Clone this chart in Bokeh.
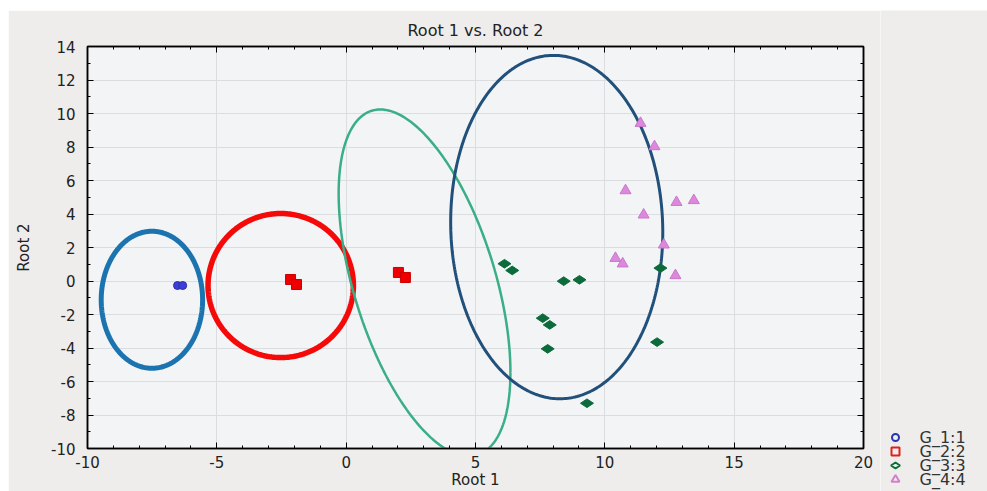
import numpy as np
from bokeh.plotting import figure
from bokeh.layouts import column, row
from bokeh.models import (LinearAxis, FixedTicker, Spacer, Range1d,
                          PrintfTickFormatter, Title)
from bokeh.embed import file_html
from bokeh.resources import INLINE

# ---------------- data ----------------
title_text = "Root 1 vs. Root 2"
x_label = "Root 1"
y_label = "Root 2"

x_ticks = [-10, -5, 0, 5, 10, 15, 20]
x_minor = list(range(-10, 21))
y_ticks = [-10, -8, -6, -4, -2, 0, 2, 4, 6, 8, 10, 12, 14]
y_minor = list(range(-10, 15))

group_labels = ["G_1:1", "G_2:2", "G_3:3", "G_4:4"]

g1_x = [-6.52, -6.32]
g1_y = [-0.27, -0.27]
g2_x = [-2.15, -1.92, 2.02, 2.29]
g2_y = [0.09, -0.21, 0.51, 0.21]
g3_x = [6.12, 6.42, 8.41, 9.02, 7.60, 7.87, 7.79, 12.15, 12.02, 9.31]
g3_y = [1.03, 0.63, -0.01, 0.07, -2.22, -2.62, -4.05, 0.77, -3.65, -7.30]
g4_x = [11.38, 11.92, 10.80, 12.77, 13.44, 11.50, 12.28, 10.41, 10.69, 12.73]
g4_y = [9.42, 8.03, 5.40, 4.70, 4.81, 3.95, 2.16, 1.36, 1.03, 0.33]

# ellipses: centre, half-extents along x and y, correlation
ell_cx = [-7.51, -2.53, 3.03, 8.14]
ell_cy = [-1.12, -0.27, -0.11, 3.22]
ell_sx = [1.96, 2.81, 3.32, 4.10]
ell_sy = [4.09, 4.30, 10.35, 10.25]
ell_rho = [0.0, 0.0, -0.515, -0.03]

# ---------------- styles ----------------
FONT = "DejaVu Sans"
BG_OUT = "#eeedeb"
ell_colors = ["#1b73b0", "#f50a0a", "#3aae86", "#21507a"]
ell_widths = [5, 5.5, 2.5, 3]

p = figure(width=872, height=481,
           x_range=Range1d(-10, 20), y_range=Range1d(-10, 14),
           output_backend="svg", toolbar_location=None,
           min_border_left=79, min_border_right=17,
           min_border_top=36, min_border_bottom=43,
           background_fill_color="#f3f4f6", border_fill_color=BG_OUT,
           x_axis_label=x_label, y_axis_label=y_label)

p.outline_line_color = "black"
p.outline_line_width = 1.5

xt = FixedTicker(ticks=x_ticks, minor_ticks=x_minor)
yt = FixedTicker(ticks=y_ticks, minor_ticks=y_minor)

for ax, tk in ((p.xaxis[0], xt), (p.yaxis[0], yt)):
    ax.ticker = tk
    ax.formatter = PrintfTickFormatter(format="%d")
    ax.axis_line_color = "black"
    ax.axis_line_width = 1.5
    ax.major_tick_in = 6
    ax.major_tick_out = 0
    ax.minor_tick_in = 3
    ax.minor_tick_out = 0
    ax.major_tick_line_color = "black"
    ax.minor_tick_line_color = "black"
    ax.major_label_text_font = FONT
    ax.major_label_text_font_size = "15px"
    ax.major_label_text_color = "#222222"
    ax.axis_label_text_font = FONT
    ax.axis_label_text_font_size = "15px"
    ax.axis_label_text_font_style = "normal"
    ax.axis_label_text_color = "#222222"

p.xaxis.major_label_standoff = 7
p.xaxis.axis_label_standoff = 0
p.yaxis.major_label_standoff = 12
p.yaxis.axis_label_standoff = 15

for side, tk in (("right", yt), ("above", xt)):
    ax = LinearAxis(ticker=tk)
    ax.axis_line_color = "black"
    ax.axis_line_width = 1.5
    ax.major_tick_in = 6
    ax.major_tick_out = 0
    ax.minor_tick_in = 3
    ax.minor_tick_out = 0
    ax.major_label_text_alpha = 0
    ax.major_label_text_font_size = "1px"
    ax.major_label_standoff = 0
    p.add_layout(ax, side)

p.add_layout(Title(text=title_text, align="center", text_font=FONT,
                   text_font_size="16px", text_font_style="normal",
                   text_color="#222222", standoff=14), "above")

p.xgrid.ticker = xt
p.ygrid.ticker = yt
p.grid.grid_line_color = "#dcdde1"
p.grid.grid_line_width = 1

# ellipses
t = np.linspace(0, 2 * np.pi, 361)
for cx, cy, sx, sy, rho, col, lw in zip(ell_cx, ell_cy, ell_sx, ell_sy, ell_rho,
                                        ell_colors, ell_widths):
    ex = cx + sx * np.cos(t)
    ey = cy + sy * (rho * np.cos(t) + np.sqrt(1 - rho ** 2) * np.sin(t))
    p.line(ex, ey, line_color=col, line_width=lw)

# points
p.scatter(g1_x, g1_y, marker="circle", size=8, fill_color="#3a3fd8",
          line_color="#2a2fa8", line_width=1)
p.scatter(g2_x, g2_y, marker="square", size=10, fill_color="#ee0000",
          line_color="#cc0000", line_width=1)
p.scatter(g3_x, g3_y, marker="diamond", size=13, angle=np.pi / 2,
          fill_color="#0b6b3a", line_color="#0b6b3a", line_width=1)
p.scatter(g4_x, g4_y, marker="triangle", size=11, fill_color="#dd88dd",
          line_color="#c877cc", line_width=1)

# ---------------- legend panel (pixel units) ----------------
leg_markers = ["circle", "square", "diamond", "triangle"]
leg_colors = ["#2a35b0", "#e02020", "#0b6b3a", "#d080d0"]
leg_sizes = [7, 8, 9, 8]
leg_angles = [0, 0, np.pi / 2, 0]
leg_w, leg_h = 107, 481
leg_row_y = [54, 40, 26, 12]

q = figure(width=leg_w, height=leg_h, x_range=Range1d(0, leg_w),
           y_range=Range1d(0, leg_h), output_backend="svg",
           toolbar_location=None, min_border=0,
           x_axis_type=None, y_axis_type=None,
           background_fill_color=BG_OUT, border_fill_color=BG_OUT,
           outline_line_color=None)
q.grid.visible = False
q.scatter(x=[15] * 4, y=leg_row_y, marker=leg_markers, size=leg_sizes,
          angle=leg_angles, fill_color=None, line_color=leg_colors,
          line_width=2)
q.text(x=[39] * 4, y=leg_row_y, text=group_labels, text_font_size="16px",
       text_color="#333333", text_baseline="middle", text_align="left",
       text_font={"value": FONT})

layout = column(Spacer(width=987, height=10),
                row(Spacer(width=8, height=481), p, column(q)))

open("out.html", "w").write(file_html(layout, INLINE))
